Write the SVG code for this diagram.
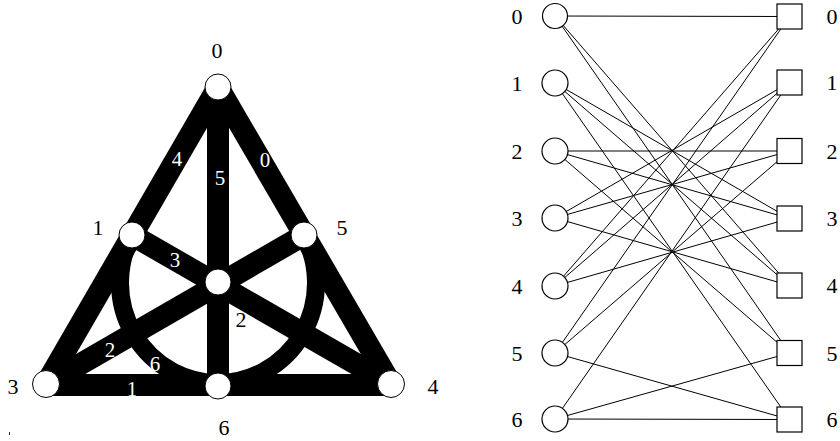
<svg xmlns="http://www.w3.org/2000/svg" width="840" height="441" viewBox="0 0 840 441">
<style>
.band{stroke:#000;stroke-width:22;fill:none;stroke-linecap:butt}
.arc{stroke:#000;stroke-width:18;fill:none}
.fnode{fill:#fff;stroke:#000;stroke-width:1}
.e{stroke:#000;stroke-width:1;fill:none}
.bnode{fill:#fff;stroke:#000;stroke-width:1.2}
text{font-family:'Liberation Serif','Times New Roman',serif;text-anchor:middle}
.lbl{font-size:22px;fill:#000}
.wl{font-size:21px;fill:#fff}
.rl{font-size:22px;fill:#000}
</style>
<rect width="840" height="441" fill="#fff"/>
<g id="fano-lines">
<path class="arc" d="M132 235 A98 100 0 1 0 304 235"/>
<line class="band" x1="218" y1="87" x2="46" y2="384"/>
<line class="band" x1="218" y1="87" x2="391" y2="384"/>
<line class="band" x1="42" y1="385" x2="396" y2="385"/>
<line class="band" x1="218" y1="87" x2="218" y2="386"/>
<line class="band" x1="132" y1="235" x2="391" y2="384"/>
<line class="band" x1="304" y1="235" x2="46" y2="384"/>
<text class="wl" x="177" y="166">4</text>
<text class="wl" x="220" y="185">5</text>
<text class="wl" x="265" y="167">0</text>
<text class="wl" x="175" y="267">3</text>
<text class="wl" x="110" y="357">2</text>
<text class="wl" x="155" y="371">6</text>
<text class="wl" x="132" y="396">1</text>
</g>
<g id="p0"><circle class="fnode" cx="218" cy="87" r="13"/><text class="lbl" x="217" y="58">0</text></g>
<g id="p1"><circle class="fnode" cx="132" cy="235" r="13"/><text class="lbl" x="98" y="235">1</text></g>
<g id="p5"><circle class="fnode" cx="304" cy="235" r="13"/><text class="lbl" x="342" y="235">5</text></g>
<g id="p2"><circle class="fnode" cx="218" cy="282" r="13"/><text class="lbl" x="241" y="327">2</text></g>
<g id="p3"><circle class="fnode" cx="46" cy="384" r="13.5"/><text class="lbl" x="13" y="394">3</text></g>
<g id="p4"><circle class="fnode" cx="391" cy="384" r="13.5"/><text class="lbl" x="433" y="394">4</text></g>
<g id="p6"><circle class="fnode" cx="218" cy="386" r="13"/><text class="lbl" x="224" y="435">6</text></g>
<rect x="9" y="432" width="1" height="3" fill="#333"/>
<g id="connectors">
<line class="e" x1="555" y1="16" x2="789.5" y2="16.5"/>
<line class="e" x1="555" y1="16" x2="789.5" y2="285.5"/>
<line class="e" x1="555" y1="16" x2="789.5" y2="353"/>
<line class="e" x1="555" y1="83" x2="789.5" y2="218.5"/>
<line class="e" x1="555" y1="83" x2="789.5" y2="285.5"/>
<line class="e" x1="555" y1="83" x2="789.5" y2="419.5"/>
<line class="e" x1="555" y1="151" x2="789.5" y2="151"/>
<line class="e" x1="555" y1="151" x2="789.5" y2="218.5"/>
<line class="e" x1="555" y1="151" x2="789.5" y2="353"/>
<line class="e" x1="555" y1="218" x2="789.5" y2="82.5"/>
<line class="e" x1="555" y1="218" x2="789.5" y2="151"/>
<line class="e" x1="555" y1="218" x2="789.5" y2="285.5"/>
<line class="e" x1="555" y1="286" x2="789.5" y2="16.5"/>
<line class="e" x1="555" y1="286" x2="789.5" y2="82.5"/>
<line class="e" x1="555" y1="286" x2="789.5" y2="218.5"/>
<line class="e" x1="555" y1="353" x2="789.5" y2="16.5"/>
<line class="e" x1="555" y1="353" x2="789.5" y2="151"/>
<line class="e" x1="555" y1="353" x2="789.5" y2="419.5"/>
<line class="e" x1="555" y1="419" x2="789.5" y2="82.5"/>
<line class="e" x1="555" y1="419" x2="789.5" y2="353"/>
<line class="e" x1="555" y1="419" x2="789.5" y2="419.5"/>
</g>
<g id="L0"><circle class="bnode" cx="555" cy="16" r="12.5"/><text class="rl" x="517" y="23.5">0</text></g>
<g id="L1"><circle class="bnode" cx="555" cy="83" r="13"/><text class="rl" x="517" y="90.5">1</text></g>
<g id="L2"><circle class="bnode" cx="555" cy="151" r="13"/><text class="rl" x="517" y="158.5">2</text></g>
<g id="L3"><circle class="bnode" cx="555" cy="218" r="13"/><text class="rl" x="517" y="225.5">3</text></g>
<g id="L4"><circle class="bnode" cx="555" cy="286" r="13"/><text class="rl" x="517" y="293.5">4</text></g>
<g id="L5"><circle class="bnode" cx="555" cy="353" r="13"/><text class="rl" x="517" y="360.5">5</text></g>
<g id="L6"><circle class="bnode" cx="555" cy="419" r="13"/><text class="rl" x="517" y="426.5">6</text></g>
<g id="R0"><rect class="bnode" x="777" y="4" width="25" height="25"/><text class="rl" x="832" y="24">0</text></g>
<g id="R1"><rect class="bnode" x="777" y="70" width="25" height="25"/><text class="rl" x="832" y="90">1</text></g>
<g id="R2"><rect class="bnode" x="777" y="138.5" width="25" height="25"/><text class="rl" x="832" y="158.5">2</text></g>
<g id="R3"><rect class="bnode" x="777" y="206" width="25" height="25"/><text class="rl" x="832" y="226">3</text></g>
<g id="R4"><rect class="bnode" x="777" y="273" width="25" height="25"/><text class="rl" x="832" y="293">4</text></g>
<g id="R5"><rect class="bnode" x="777" y="340.5" width="25" height="25"/><text class="rl" x="832" y="360.5">5</text></g>
<g id="R6"><rect class="bnode" x="777" y="407" width="25" height="25"/><text class="rl" x="832" y="427">6</text></g>
</svg>
